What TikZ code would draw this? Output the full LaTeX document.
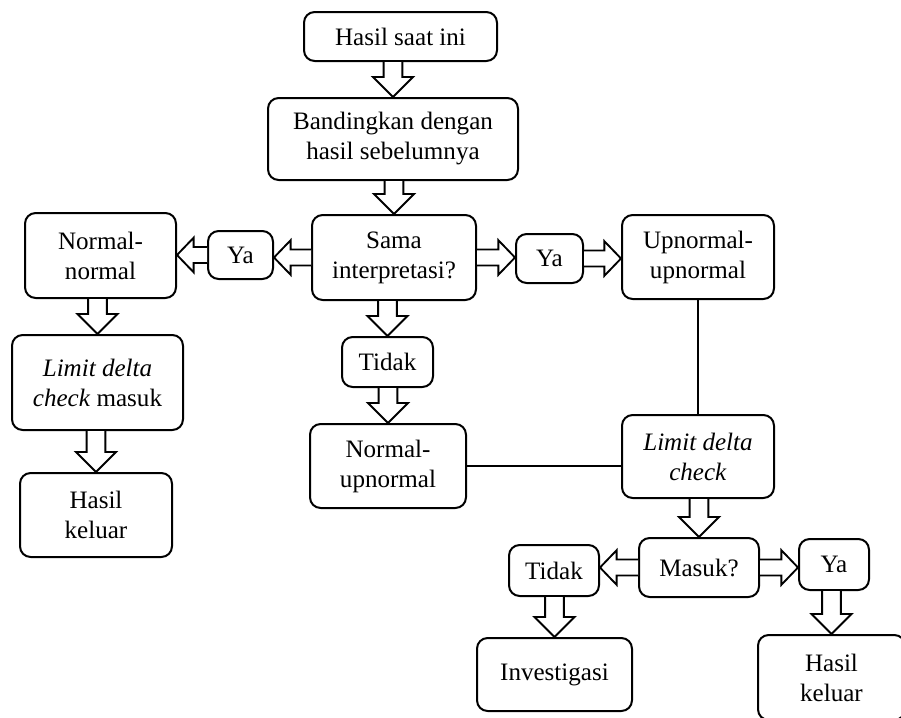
\documentclass[tikz,border=0pt]{standalone}
\usepackage{fontspec}
\setmainfont{Liberation Serif}
\usetikzlibrary{calc}
\tikzset{
  box/.style={draw, line width=1.5pt, rounded corners=8pt, align=center, inner sep=1pt,
    font=\fontsize{18.8}{22.5}\selectfont},
  blk/.style={draw, line width=1.4pt, fill=white, line join=miter},
  conn/.style={draw, line width=1.4pt},
}
\newcommand\dnarrow[2]{\path[blk] let \p1=(#1),\p2=(#2) in
  (\x2-7pt,\y1) -- (\x2-7pt,\y2+15pt) -- (\x2-15pt,\y2+15pt) -- (\x2,\y2)
  -- (\x2+15pt,\y2+15pt) -- (\x2+7pt,\y2+15pt) -- (\x2+7pt,\y1);}
\newcommand\ltarrow[2]{\path[blk] let \p1=(#1),\p2=(#2) in
  (\x1,\y1+6pt) -- (\x2+12.5pt,\y1+6pt) -- (\x2+12.5pt,\y1+13pt) -- (\x2,\y1)
  -- (\x2+12.5pt,\y1-13pt) -- (\x2+12.5pt,\y1-6pt) -- (\x1,\y1-6pt);}
\newcommand\rtarrow[2]{\path[blk] let \p1=(#1),\p2=(#2) in
  (\x1,\y1+6pt) -- (\x2-12.5pt,\y1+6pt) -- (\x2-12.5pt,\y1+13pt) -- (\x2,\y1)
  -- (\x2-12.5pt,\y1-13pt) -- (\x2-12.5pt,\y1-6pt) -- (\x1,\y1-6pt);}
\begin{document}
\begin{tikzpicture}[x=0.75pt,y=-0.75pt]
\useasboundingbox (0,0) rectangle (901,718);
\clip (0,0) rectangle (901,718);
\node[box, minimum width=144.75pt, minimum height=36.75pt] (hasil) at (400.5,36.5) {Hasil saat ini};
\node[box, minimum width=187.5pt, minimum height=61.5pt] (band) at (393,139) {Bandingkan dengan\\hasil sebelumnya};
\node[box, minimum width=123pt, minimum height=63.75pt] (sama) at (394,257.5) {Sama\\interpretasi?};
\node[box, minimum width=50.25pt, minimum height=36.75pt] (yaR) at (549.5,258.5) {Ya};
\node[box, minimum width=68.25pt, minimum height=37.5pt] (tidak1) at (387.5,362) {Tidak};
\node[box, minimum width=113.25pt, minimum height=63.75pt] (nn) at (100.5,255.5) {Normal-\\normal};
\node[box, minimum width=48.75pt, minimum height=36pt] (yaL) at (240.5,255) {Ya};
\node[box, minimum width=128.25pt, minimum height=71.25pt] (ldcL) at (97.5,382.5) {\textit{Limit delta}\\\textit{check} masuk};
\node[box, minimum width=114pt, minimum height=63pt] (hkL) at (96,515) {Hasil\\keluar};
\node[box, minimum width=117pt, minimum height=63pt] (nu) at (388,466) {Normal-\\upnormal};
\node[box, minimum width=114pt, minimum height=63pt] (uu) at (698,257) {Upnormal-\\upnormal};
\node[box, minimum width=114pt, minimum height=62.25pt] (ldcR) at (698,456.5) {\textit{Limit delta}\\\textit{check}};
\node[box, minimum width=90pt, minimum height=44.25pt] (masuk) at (699,567.5) {Masuk?};
\node[box, minimum width=67.5pt, minimum height=38.25pt] (tidak2) at (554,570.5) {Tidak};
\node[box, minimum width=52.5pt, minimum height=38.25pt] (ya2) at (834,564.5) {Ya};
\node[box, minimum width=116.25pt, minimum height=54.75pt] (inv) at (554.5,674.5) {Investigasi};
\node[box, minimum width=110.25pt, minimum height=63.75pt] (hkR) at (831.5,677.5) {Hasil\\keluar};
\dnarrow{hasil.south}{band.north}
\dnarrow{band.south}{sama.north}
\dnarrow{sama.south}{tidak1.north}
\dnarrow{tidak1.south}{nu.north}
\dnarrow{nn.south}{ldcL.north}
\dnarrow{ldcL.south}{hkL.north}
\dnarrow{ldcR.south}{masuk.north}
\dnarrow{tidak2.south}{inv.north}
\dnarrow{ya2.south}{hkR.north}
\ltarrow{sama.west}{yaL.east}
\ltarrow{yaL.west}{nn.east}
\ltarrow{masuk.west}{tidak2.east}
\rtarrow{sama.east}{yaR.west}
\rtarrow{yaR.east}{uu.west}
\rtarrow{masuk.east}{ya2.west}
\path[conn] (uu.south) -- (ldcR.north);
\path[conn] (nu.east) -- (nu.east -| ldcR.west);
\end{tikzpicture}
\end{document}
